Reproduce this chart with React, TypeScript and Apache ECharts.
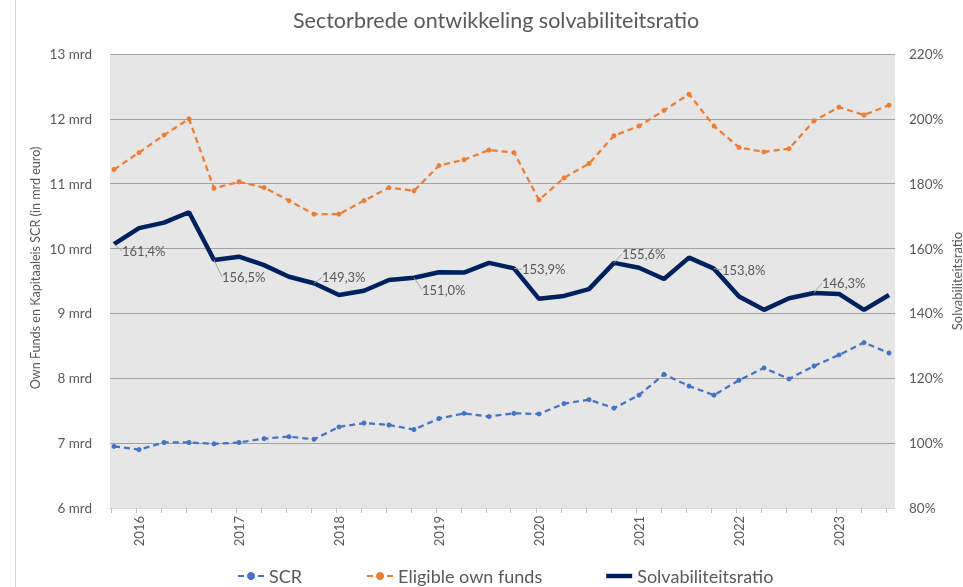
import React, { useEffect, useRef } from "react";
import * as echarts from "echarts";

const quarters: string[] = [
  "2015Q4",
  "2016Q1", "2016Q2", "2016Q3", "2016Q4",
  "2017Q1", "2017Q2", "2017Q3", "2017Q4",
  "2018Q1", "2018Q2", "2018Q3", "2018Q4",
  "2019Q1", "2019Q2", "2019Q3", "2019Q4",
  "2020Q1", "2020Q2", "2020Q3", "2020Q4",
  "2021Q1", "2021Q2", "2021Q3", "2021Q4",
  "2022Q1", "2022Q2", "2022Q3", "2022Q4",
  "2023Q1", "2023Q2", "2023Q3",
];

const scr: number[] = [
  6.95, 6.9, 7.01, 7.01, 6.99, 7.01, 7.07, 7.1, 7.06, 7.25, 7.31, 7.28, 7.21, 7.38, 7.46, 7.41,
  7.46, 7.45, 7.61, 7.67, 7.54, 7.74, 8.06, 7.88, 7.74, 7.97, 8.16, 7.99, 8.19, 8.36, 8.55, 8.39,
];

const eligibleOwnFunds: number[] = [
  11.22, 11.48, 11.75, 12.0, 10.93, 11.03, 10.94, 10.74, 10.53, 10.53, 10.74, 10.94, 10.89, 11.28, 11.37, 11.52,
  11.48, 10.75, 11.09, 11.31, 11.74, 11.89, 12.13, 12.38, 11.89, 11.56, 11.49, 11.54, 11.97, 12.18, 12.06, 12.21,
];

const solvencyRatio: number[] = [
  161.4, 166.3, 168.0, 171.2, 156.5, 157.5, 154.9, 151.3, 149.3, 145.7, 147.0, 150.3, 151.0, 152.7, 152.6, 155.6,
  153.9, 144.5, 145.4, 147.5, 155.6, 154.1, 150.6, 157.2, 153.8, 145.2, 141.1, 144.7, 146.3, 146.0, 141.1, 145.7,
];

const leftTicks = { min: 6, max: 13, interval: 1 };
const rightTicks = { min: 80, max: 220, interval: 20 };

// label vertical shifts (style) for the year-end labels
const labelShift: Record<number, number> = { 0: 7, 4: 17, 8: -6, 12: 12, 16: 1, 20: -9, 24: 1, 28: -10 };

const GREY = "#595959";
const FONT = "Lato";

const fmtPct = (v: number) => v.toFixed(1).replace(".", ",") + "%";

export default function App() {
  const ref = useRef<HTMLDivElement>(null);

  useEffect(() => {
    if (!ref.current) return;
    const chart = echarts.init(ref.current, undefined, { renderer: "svg" });

    const q1Idx = quarters.map((q, i) => (q.endsWith("Q1") ? i : -1)).filter((i) => i >= 0);
    const q4Idx = quarters.map((q, i) => (q.endsWith("Q4") ? i : -1)).filter((i) => i >= 0);
    const tickVals = quarters.map((_, i) => i - 0.13);

    const ratioData = solvencyRatio.map((v, i) =>
      q4Idx.includes(i)
        ? { value: [i, v], label: { show: true } }
        : { value: [i, v] }
    );

    chart.setOption({
      animation: false,
      textStyle: { fontFamily: FONT },
      title: {
        text: "Sectorbrede ontwikkeling solvabiliteitsratio",
        left: 293,
        top: 9,
        padding: 0,
        textStyle: { fontFamily: FONT, fontSize: 21.5, fontWeight: "normal", color: GREY },
      },
      graphic: [
        {
          type: "line",
          shape: { x1: 15.5, y1: 0, x2: 15.5, y2: 587 },
          style: { stroke: "#d9d9d9", lineWidth: 1 },
        },
      ],
      legend: {
        top: 567,
        left: 237,
        padding: 0,
        itemGap: 64,
        itemWidth: 26,
        itemHeight: 10,
        textStyle: { fontFamily: FONT, fontSize: 18, color: GREY },
        data: [
          "SCR",
          "Eligible own funds",
          { name: "Solvabiliteitsratio", icon: "path://M0,0H26V4.5H0Z" },
        ],
      },
      grid: {
        left: 110,
        right: 68,
        top: 54,
        bottom: 79,
        show: true,
        backgroundColor: "#e6e6e6",
        borderWidth: 0,
        outerBoundsMode: "none",
        containLabel: false,
      },
      xAxis: {
        type: "value",
        min: -0.16,
        max: 31.24,
        axisLine: { show: true, lineStyle: { color: "#d9d9d9" } },
        axisTick: {
          show: true,
          customValues: tickVals,
          length: 5,
          lineStyle: { color: "#bfbfbf" },
        },
        splitLine: { show: false },
        axisLabel: {
          customValues: q1Idx,
          rotate: 90,
          margin: 8,
          fontSize: 13,
          color: GREY,
          fontFamily: FONT,
          formatter: (v: number) => quarters[Math.round(v)].slice(0, 4),
        },
      },
      yAxis: [
        {
          type: "value",
          ...leftTicks,
          position: "left",
          name: "Own Funds en Kapitaaleis SCR (in mrd euro)",
          nameLocation: "middle",
          nameRotate: 90,
          nameGap: 68,
          nameMoveOverlap: false,
          nameTextStyle: { fontFamily: FONT, fontSize: 12.6, color: GREY, padding: [0, 0, 0, 26] },
          axisLine: { show: false },
          axisTick: { show: false },
          axisLabel: { formatter: "{value} mrd", fontSize: 13.5, color: GREY, margin: 18, fontFamily: FONT },
          splitLine: { show: true, lineStyle: { color: "#a3a3a3", width: 1 } },
        },
        {
          type: "value",
          ...rightTicks,
          position: "right",
          name: "Solvabiliteitsratio",
          nameLocation: "middle",
          nameRotate: 90,
          nameGap: 55,
          nameMoveOverlap: false,
          nameTextStyle: { fontFamily: FONT, fontSize: 13, color: GREY },
          axisLine: { show: false },
          axisTick: { show: false },
          axisLabel: { formatter: "{value}%", fontSize: 13.5, color: GREY, margin: 14, fontFamily: FONT },
          splitLine: { show: false },
        },
      ],
      series: [
        {
          name: "SCR",
          type: "line",
          yAxisIndex: 0,
          data: scr.map((v, i) => [i, v]),
          symbol: "circle",
          symbolSize: 5,
          itemStyle: { color: "#4472C4" },
          lineStyle: { color: "#4472C4", width: 2.25, type: [6, 4] },
          z: 3,
        },
        {
          name: "Eligible own funds",
          type: "line",
          yAxisIndex: 0,
          data: eligibleOwnFunds.map((v, i) => [i, v]),
          symbol: "circle",
          symbolSize: 5,
          itemStyle: { color: "#ED7D31" },
          lineStyle: { color: "#ED7D31", width: 2.25, type: [6, 4] },
          z: 3,
        },
        {
          name: "Solvabiliteitsratio",
          type: "line",
          yAxisIndex: 1,
          data: ratioData,
          symbol: "circle",
          symbolSize: 0.01,
          showSymbol: true,
          itemStyle: { color: "#002060" },
          lineStyle: { color: "#002060", width: 4.5 },
          label: {
            show: false,
            position: "right",
            distance: 8,
            fontSize: 13,
            color: GREY,
            fontFamily: FONT,
            formatter: (p: any) => fmtPct(p.value[1]),
          },
          labelLayout: (p: any) => ({ dy: labelShift[p.dataIndex] ?? 0 }),
          labelLine: { show: true, lineStyle: { color: "#a6a6a6", width: 1 } },
          z: 4,
        },
      ],
    });

    return () => chart.dispose();
  }, []);

  return <div ref={ref} style={{ position: "fixed", left: 0, top: 0, width: 963, height: 587 }} />;
}
